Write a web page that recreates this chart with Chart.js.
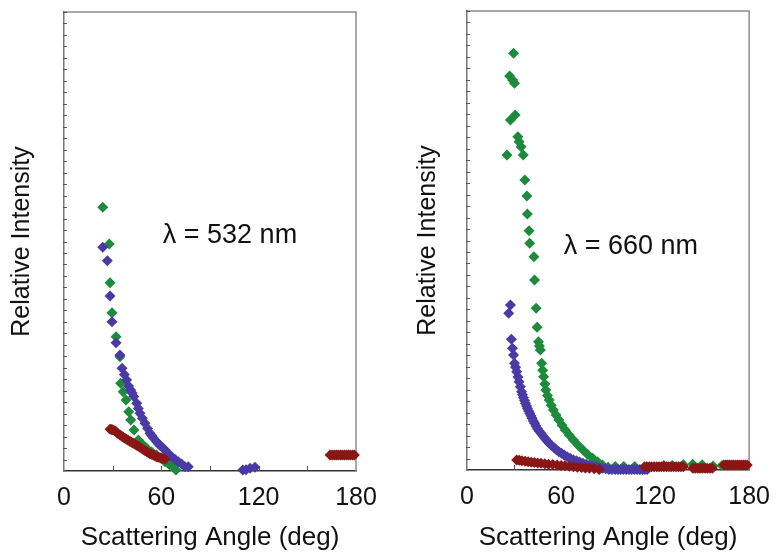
<!DOCTYPE html>
<html>
<head>
<meta charset="utf-8">
<script src="https://cdn.jsdelivr.net/npm/chart.js@4.4.0/dist/chart.umd.min.js"></script>
<style>
    html, body { margin: 0; padding: 0; background: #fff; }
    .panel { position: absolute; top: 0; height: 554px; }
    #leftPanel { left: 0; width: 390px; }
    #rightPanel { left: 400px; width: 382px; }
</style>
</head>
<body>
<div class="panel" id="leftPanel"><canvas id="chartLeft"></canvas></div>
<div class="panel" id="rightPanel"><canvas id="chartRight"></canvas></div>
<script>
// ---- data (scattering angle in deg, relative intensity in arbitrary units) ----
const xTickValues = [0, 60, 120, 180];

// 532 nm panel
const green532X = [23.9, 27.9, 28.4, 29.6, 32.1, 34.5, 34.9, 36.5, 38.2, 39.9, 41.1, 43.1, 45.8, 48.5, 51.0, 54.0, 57.1, 60.0, 62.3, 65.0, 67.4, 69.0];
const green532Y = [22.98, 19.78, 16.41, 13.80, 11.70, 9.96, 7.64, 6.9, 6.19, 5.17, 4.44, 3.57, 2.70, 2.3, 1.98, 1.65, 1.39, 1.1, 0.81, 0.55, 0.37, 0.09];

const blue532X = [23.9, 26.7, 28.4, 29.6, 32.1, 34.5, 35.8, 37.2, 38.6, 39.8, 41.1, 42.0, 43.0, 44.8, 45.8, 46.8, 48.3, 49.9, 51.5, 53.0, 54.0, 55.0, 57.1, 58.3, 59.5, 61.0, 62.3, 64.5, 66.4, 68.5, 70.5, 72.5, 74.6, 76.6, 110.2, 112.2, 114.7, 117.7];
const blue532Y = [19.50, 18.33, 15.25, 13.01, 11.18, 10.11, 8.95, 8.4, 7.93, 7.4, 7.06, 6.8, 6.5, 5.90, 5.45, 5.03, 4.6, 4.16, 3.7, 3.29, 3.1, 2.9, 2.55, 2.35, 2.2, 2.0, 1.83, 1.5, 1.25, 1.0, 0.81, 0.6, 0.37, 0.37, 0.09, 0.1, 0.24, 0.32];

const red532X = [28.4, 29.2, 30.0, 31.4, 32.2, 33.0, 34.5, 35.5, 36.5, 37.5, 38.6, 39.5, 40.5, 41.6, 42.7, 43.8, 44.8, 45.8, 46.8, 48.0, 49.0, 50.0, 51.0, 52.0, 53.0, 54.0, 55.0, 56.0, 57.0, 58.0, 59.2, 60.0, 61.0, 62.3, 164.0, 165.3, 166.5, 167.8, 169.0, 170.3, 171.5, 172.8, 174.0, 175.3, 176.5, 177.8, 179.0];
const red532Y = [3.63, 3.62, 3.6, 3.51, 3.4, 3.3, 3.14, 3.05, 2.95, 2.85, 2.76, 2.68, 2.6, 2.5, 2.41, 2.33, 2.25, 2.15, 2.07, 1.95, 1.85, 1.76, 1.68, 1.6, 1.5, 1.45, 1.39, 1.32, 1.25, 1.2, 1.16, 1.13, 1.1, 1.02, 1.39, 1.39, 1.39, 1.39, 1.39, 1.39, 1.39, 1.39, 1.39, 1.39, 1.39, 1.39, 1.39];

// 660 nm panel
const green660X = [29.7, 27.2, 29.1, 30.3, 30.7, 27.7, 32.4, 33.2, 34.5, 35.9, 25.5, 36.9, 38.2, 38.5, 39.6, 40.0, 42.7, 43.1, 44.1, 44.7, 45.6, 46.2, 46.8, 47.6, 48.3, 48.9, 49.6, 50.3, 51.3, 52.4, 53.7, 55.1, 56.8, 58.6, 60.6, 62.7, 65.2, 67.9, 70.9, 74.0, 77.0, 80.2, 83.2, 86.4, 90.0, 94.6, 100.0, 107.0, 125.6, 131.0, 138.0, 144.0, 150.0, 157.0, 162.7];
const green660Y = [36.32, 34.34, 33.99, 33.70, 30.94, 30.50, 29.05, 28.61, 28.18, 27.45, 27.45, 25.27, 23.88, 22.31, 20.86, 19.76, 18.59, 16.56, 14.09, 12.44, 11.18, 10.8, 10.46, 9.30, 8.7, 8.13, 7.5, 6.97, 6.5, 6.10, 5.65, 5.23, 4.8, 4.36, 3.9, 3.49, 3.05, 2.61, 2.15, 1.74, 1.35, 1.02, 0.72, 0.44, 0.25, 0.3, 0.3, 0.3, 0.4, 0.4, 0.45, 0.5, 0.45, 0.35, 0.4];

const blue660X = [27.7, 26.6, 28.3, 29.0, 29.7, 30.3, 31.0, 31.7, 32.5, 33.2, 34.0, 34.8, 35.4, 36.0, 36.7, 37.3, 38.0, 38.6, 39.3, 40.0, 40.8, 41.5, 42.3, 43.1, 44.0, 45.0, 46.0, 47.2, 48.5, 49.8, 51.0, 52.4, 54.0, 55.5, 57.0, 58.6, 60.3, 62.0, 63.9, 65.8, 67.8, 69.8, 71.9, 74.0, 76.0, 78.0, 80.2, 82.3, 84.4, 86.5, 88.5, 90.5, 92.5, 94.6, 96.3, 98.0, 99.8, 101.5, 103.3, 105.0, 106.8, 108.5, 110.3, 112.0, 113.5, 115.0];
const blue660Y = [14.38, 13.66, 11.39, 10.6, 10.02, 9.30, 8.95, 8.57, 8.1, 7.70, 7.25, 6.82, 6.55, 6.3, 6.05, 5.81, 5.58, 5.35, 5.15, 4.94, 4.72, 4.5, 4.28, 4.07, 3.83, 3.6, 3.4, 3.20, 2.97, 2.75, 2.54, 2.33, 2.14, 1.95, 1.77, 1.59, 1.45, 1.3, 1.16, 1.02, 0.9, 0.8, 0.69, 0.58, 0.5, 0.42, 0.35, 0.29, 0.22, 0.15, 0.1, 0.05, 0.05, 0.05, 0.05, 0.05, 0.05, 0.05, 0.05, 0.05, 0.05, 0.05, 0.05, 0.05, 0.05, 0.05];

const red660X = [31.7, 33.3, 35.0, 37.0, 39.0, 41.0, 43.0, 45.1, 47.2, 49.6, 52.0, 54.7, 57.5, 60.0, 62.5, 65.2, 67.9, 70.4, 73.0, 75.5, 78.1, 81.2, 84.3, 113.2, 114.7, 116.3, 117.8, 119.4, 121.0, 122.5, 124.0, 125.6, 127.2, 128.7, 130.2, 131.8, 133.4, 135.0, 136.5, 138.0, 144.1, 145.6, 147.2, 148.7, 150.3, 151.9, 153.4, 155.0, 156.5, 163.9, 165.1, 166.4, 167.6, 168.9, 170.1, 171.4, 172.6, 173.8, 175.0, 176.3, 177.5, 178.8];
const red660Y = [0.87, 0.84, 0.8, 0.76, 0.72, 0.68, 0.65, 0.62, 0.58, 0.54, 0.5, 0.47, 0.44, 0.4, 0.36, 0.32, 0.29, 0.25, 0.22, 0.18, 0.15, 0.1, 0.05, 0.29, 0.29, 0.29, 0.29, 0.29, 0.29, 0.29, 0.29, 0.29, 0.29, 0.29, 0.29, 0.29, 0.29, 0.29, 0.29, 0.29, 0.15, 0.15, 0.15, 0.15, 0.15, 0.15, 0.15, 0.15, 0.15, 0.44, 0.44, 0.44, 0.44, 0.44, 0.44, 0.44, 0.44, 0.44, 0.44, 0.44, 0.44, 0.44];

const GREEN = '#1e8a3c';
const BLUE = '#4a3aa6';
const RED = '#8a1616';
const FONT = "'Liberation Sans', Arial, Helvetica, sans-serif";

function toPoints(xs, ys) {
    return xs.map((x, i) => ({ x: x, y: ys[i] }));
}

function series(xs, ys, color, order) {
    return {
        data: toPoints(xs, ys),
        backgroundColor: color,
        borderColor: color,
        borderWidth: 0,
        pointStyle: 'rectRot',
        pointRadius: 5.5,
        pointHoverRadius: 5.5,
        clip: false,
        order: order
    };
}

// inner tick marks, frame and the wavelength label
const framePlugin = {
    id: 'framePlugin',
    beforeDatasetsDraw(chart) {
        const { ctx, chartArea: a, scales } = chart;
        ctx.save();
        ctx.strokeStyle = '#8c8c8c';
        ctx.lineWidth = 1.5;
        ctx.beginPath();
        ctx.moveTo(a.left, a.top);
        ctx.lineTo(a.right, a.top);
        ctx.lineTo(a.right, a.bottom);
        ctx.stroke();

        ctx.strokeStyle = '#555';
        ctx.lineWidth = 1;
        ctx.beginPath();
        scales.x.ticks.forEach(t => {
            const px = Math.round(scales.x.getPixelForValue(t.value)) + 0.5;
            if (t.value <= 0 || t.value >= 180) return;
            ctx.moveTo(px, a.bottom);
            ctx.lineTo(px, a.bottom - 5);
        });
        scales.y.ticks.forEach(t => {
            const py = Math.round(scales.y.getPixelForValue(t.value)) + 0.5;
            if (t.value <= 0) return;
            ctx.moveTo(a.left - 1, py);
            ctx.lineTo(a.left + 3, py);
        });
        ctx.stroke();
        ctx.restore();
    },
    afterDraw(chart, args, opts) {
        const { ctx, scales } = chart;
        ctx.save();
        ctx.fillStyle = '#111';
        ctx.font = '27px ' + FONT;
        ctx.textAlign = 'center';
        ctx.textBaseline = 'middle';
        ctx.fillText(opts.text, scales.x.getPixelForValue(opts.x), scales.y.getPixelForValue(opts.y));
        ctx.restore();
    }
};

function makeChart(canvasId, datasets, cfg) {
    new Chart(document.getElementById(canvasId), {
        type: 'scatter',
        data: { datasets: datasets },
        plugins: [framePlugin],
        options: {
            responsive: true,
            maintainAspectRatio: false,
            animation: false,
            layout: { padding: { top: cfg.top, right: cfg.right, left: 0, bottom: 0 } },
            plugins: {
                legend: { display: false },
                tooltip: { enabled: false },
                framePlugin: { text: cfg.label, x: cfg.labelX, y: cfg.labelY }
            },
            scales: {
                x: {
                    type: 'linear',
                    min: 0,
                    max: 180,
                    afterFit: s => { s.height = cfg.xHeight; },
                    afterBuildTicks: s => {
                        s.ticks = [0, 30, 60, 90, 120, 150, 180].map(v => ({ value: v }));
                    },
                    ticks: {
                        autoSkip: false,
                        maxRotation: 0,
                        padding: 12,
                        color: '#111',
                        font: { family: FONT, size: 25 },
                        callback: v => (xTickValues.includes(v) ? String(v) : '')
                    },
                    grid: { drawOnChartArea: false, drawTicks: false },
                    border: { display: true, color: '#333', width: 1.5 },
                    title: {
                        display: true,
                        text: 'Scattering Angle (deg)',
                        color: '#111',
                        font: { family: FONT, size: 26 },
                        padding: { top: 0, bottom: 1 }
                    }
                },
                y: {
                    type: 'linear',
                    min: 0,
                    max: 40,
                    afterFit: s => { s.width = cfg.yWidth; },
                    ticks: { stepSize: 1, display: false },
                    grid: { drawOnChartArea: false, drawTicks: false },
                    border: { display: true, color: '#777', width: 1.5 },
                    title: {
                        display: true,
                        text: 'Relative Intensity',
                        color: '#111',
                        font: { family: FONT, size: 25 },
                        padding: { top: cfg.yTitlePad, bottom: 0 }
                    }
                }
            }
        }
    });
}

makeChart('chartLeft', [
    series(blue532X, blue532Y, BLUE, 1),
    series(green532X, green532Y, GREEN, 2),
    series(red532X, red532Y, RED, 0)
], { top: 12, right: 34, xHeight: 83, yWidth: 64, yTitlePad: 7, label: '\u03BB = 532 nm', labelX: 102.3, labelY: 20.5 });

makeChart('chartRight', [
    series(green660X, green660Y, GREEN, 2),
    series(blue660X, blue660Y, BLUE, 1),
    series(red660X, red660Y, RED, 0)
], { top: 11, right: 24, xHeight: 84, yWidth: 67, yTitlePad: 13, label: '\u03BB = 660 nm', labelX: 104.5, labelY: 19.5 });
</script>
</body>
</html>
